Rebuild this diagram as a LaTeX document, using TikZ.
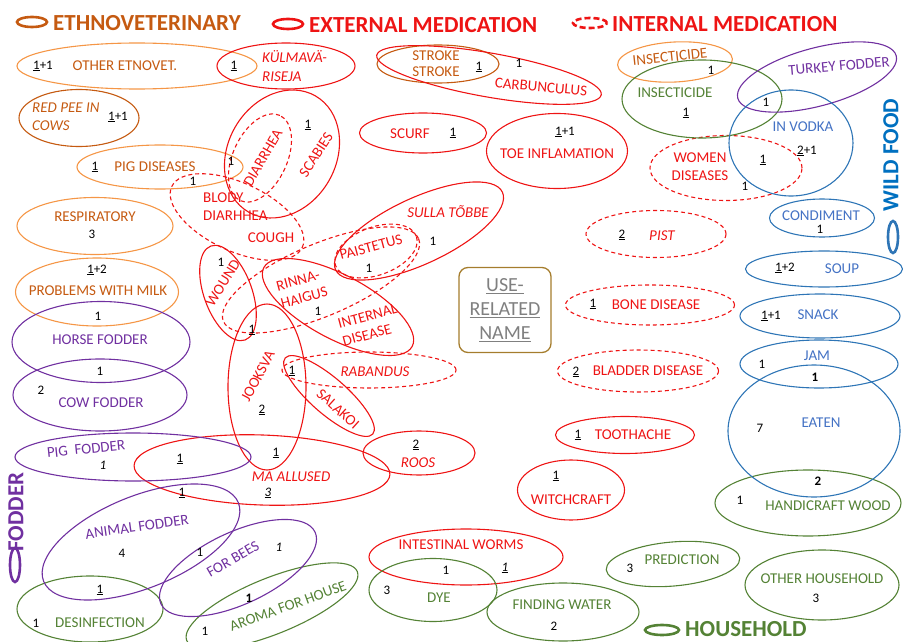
\documentclass[tikz,border=0pt]{standalone}
\usepackage{fontspec}
\setmainfont{Carlito}
\usetikzlibrary{shapes.geometric}
\definecolor{EthnoDark}{RGB}{197,90,17}
\definecolor{EthnoLight}{RGB}{245,150,70}
\definecolor{ExtRed}{RGB}{238,20,20}
\definecolor{FodPurple}{RGB}{112,48,160}
\definecolor{WildBlue}{RGB}{46,117,182}
\definecolor{WildText}{RGB}{68,114,196}
\definecolor{WildTitle}{RGB}{0,112,192}
\definecolor{HouseGreen}{RGB}{84,130,53}
\definecolor{BoxBrown}{RGB}{165,125,45}
\newcommand{\un}[1]{\underline{#1}}
\begin{document}
\begin{tikzpicture}[x=1pt,y=-1pt,
      ov/.style={ellipse,draw,line width=1.1pt,inner sep=0pt},
      sz/.style 2 args={minimum width=#1pt,minimum height=#2pt},
      ethE/.style={ov,draw=EthnoLight},
      ethD/.style={ov,draw=EthnoDark},
      extE/.style={ov,draw=ExtRed},
      intE/.style={ov,draw=ExtRed,dash pattern=on 4pt off 3pt},
      fodE/.style={ov,draw=FodPurple},
      wildE/.style={ov,draw=WildBlue},
      houseE/.style={ov,draw=HouseGreen},
      key/.style={ov,line width=2.6pt},
      ttl/.style={font=\fontsize{23}{24}\selectfont\bfseries,inner sep=0pt},
      lab/.style={font=\fontsize{15}{18}\selectfont,inner sep=0pt},
      num/.style={font=\fontsize{13}{14}\selectfont,inner sep=0pt},
      eth/.style={lab,text=EthnoDark},
      ext/.style={lab,text=ExtRed},
      fod/.style={lab,text=FodPurple},
      wild/.style={lab,text=WildText},
      house/.style={lab,text=HouseGreen}]
    \useasboundingbox (0,0) rectangle (903,642);
    % legend
    \node[key,draw=EthnoDark,sz={30}{10}] (kEth) at (32,22) {};
    \node[ttl,text=EthnoDark,anchor=west] (tEth) at (53,23) {ETHNOVETERINARY};
    \node[key,draw=ExtRed,sz={30}{10}] (kExt) at (288,24) {};
    \node[ttl,text=ExtRed,anchor=west] (tExt) at (309,25) {EXTERNAL MEDICATION};
    \node[key,draw=ExtRed,dash pattern=on 6pt off 3pt,sz={34}{10}] (kInt) at (590,23) {};
    \node[ttl,text=ExtRed,anchor=west] (tInt) at (612,24) {INTERNAL MEDICATION};
    \node[ttl,text=WildTitle,rotate=90] (tWild) at (891,155) {WILD FOOD};
    \node[key,draw=WildBlue,sz={10}{32}] (kWild) at (893,237) {};
    \node[ttl,text=FodPurple,rotate=90] (tFod) at (16,512) {FODDER};
    \node[key,draw=FodPurple,sz={10}{34}] (kFod) at (15,565) {};
    \node[key,draw=HouseGreen,sz={34}{10}] (kHouse) at (662,630) {};
    \node[ttl,text=HouseGreen,anchor=west] (tHouse) at (685,629) {HOUSEHOLD};
    % ethnoveterinary
    \node[ethE,sz={240}{46}] (eOther) at (137,66) {};
    \node[ethD,sz={120}{57}] (eRedPee) at (79,118) {};
    \node[ethE,sz={166}{44}] (ePigDis) at (160,167) {};
    \node[ethE,sz={156}{57}] (eResp) at (95,226) {};
    \node[ethE,sz={163}{68}] (eMilk) at (97,292) {};
    \node[ethD,sz={122}{38}] (eStroke) at (438,64) {};
    \node[ethE,sz={115}{40},rotate=3] (eInsO) at (675,62) {};
    \node[eth] (lOther) at (125,66) {OTHER ETNOVET.};
    \node[eth,font=\fontsize{15}{18}\selectfont\itshape,align=left,anchor=west] (lRedPee) at (32,117) {RED PEE IN\\COWS};
    \node[eth] (lPigDis) at (155,167) {PIG DISEASES};
    \node[eth] (lResp) at (95,217) {RESPIRATORY};
    \node[eth] (lMilk) at (98,291) {PROBLEMS WITH MILK};
    \node[eth,align=center,font=\fontsize{15}{16}\selectfont] (lStroke) at (436,64) {STROKE\\STROKE};
    \node[eth,rotate=6] (lInsO) at (670,57) {INSECTICIDE};
    % external medication
    \node[extE,sz={138}{46}] (eKulm) at (286,66) {};
    \node[extE,sz={228}{44},rotate=-10] (eCarb) at (489,75) {};
    \node[extE,sz={127}{40}] (eScurf) at (423,133) {};
    \node[extE,sz={141}{75}] (eToe) at (557,151) {};
    \node[extE,sz={134}{108},rotate=60] (eScab) at (282,154) {};
    \node[extE,sz={184}{66},rotate=25] (eSulla) at (419,231) {};
    \node[extE,sz={100}{48},rotate=-70] (eWound) at (228,293) {};
    \node[extE,sz={168}{64},rotate=-28] (eRinna) at (338,307) {};
    \node[extE,sz={78}{166}] (eJook) at (267,387) {};
    \node[extE,sz={116}{36},rotate=-41] (eSalak) at (329,396) {};
    \node[extE,sz={256}{70},rotate=-2] (eMaAll) at (262,470) {};
    \node[extE,sz={112}{44}] (eRoos) at (419,453) {};
    \node[extE,sz={139}{37}] (eTooth) at (625,435) {};
    \node[extE,sz={107}{60}] (eWitch) at (571,490) {};
    \node[extE,sz={194}{56}] (eWorms) at (466,557) {};
    \node[ext,font=\fontsize{15}{19}\selectfont\itshape,align=left,anchor=west] (lKulm) at (262,66) {KÜLMAVÄ-\\RISEJA};
    \node[ext,rotate=-5] (lCarb) at (541,87) {CARBUNCULUS};
    \node[ext] (lScurf) at (410,134) {SCURF};
    \node[ext] (lToe) at (557,154) {TOE INFLAMATION};
    \node[ext,rotate=57] (lScab) at (316,155) {SCABIES};
    \node[ext,font=\fontsize{15}{18}\selectfont\itshape] (lSulla) at (448,212) {SULLA TÕBBE};
    \node[ext,rotate=58] (lWound) at (223,283) {WOUND};
    \node[ext,rotate=15,align=left] (lRinna) at (302,289) {RINNA-\\HAIGUS};
    \node[ext,rotate=15,align=left] (lIntDis) at (370,325) {INTERNAL\\DISEASE};
    \node[ext,rotate=62] (lJook) at (258,376) {JOOKSVA};
    \node[ext,rotate=-42] (lSalak) at (338,409) {SALAKOI};
    \node[ext,font=\fontsize{15}{18}\selectfont\itshape] (lMaAll) at (291,477) {MA ALLUSED};
    \node[ext,font=\fontsize{15}{18}\selectfont\itshape] (lRoos) at (418,463) {ROOS};
    \node[ext] (lTooth) at (633,435) {TOOTHACHE};
    \node[ext] (lWitch) at (571,500) {WITCHCRAFT};
    \node[ext] (lWorms) at (461,545) {INTESTINAL WORMS};
    % internal medication
    \node[intE,sz={94}{54},rotate=65] (eDiarr) at (260,158) {};
    \node[intE,sz={144}{68},rotate=-25] (eBlody) at (237,217) {};
    \node[intE,sz={86}{48},rotate=20] (ePaist) at (376,251) {};
    \node[intE,sz={212}{72},rotate=23] (eLong) at (321,280) {};
    \node[intE,sz={174}{36}] (eRaband) at (369,370) {};
    \node[intE,sz={152}{65}] (eWomen) at (726,168) {};
    \node[intE,sz={140}{47}] (ePist) at (656,234) {};
    \node[intE,sz={169}{40}] (eBone) at (650,305) {};
    \node[intE,sz={161}{42}] (eBladd) at (638,371) {};
    \node[ext,rotate=60] (lDiarr) at (263,158) {DIARRHEA};
    \node[ext,align=left,anchor=west] (lBlody) at (203,207) {BLODY\\DIARHHEA};
    \node[ext] (lCough) at (271,238) {COUGH};
    \node[ext,rotate=15] (lPaist) at (371,247) {PAISTETUS};
    \node[ext,font=\fontsize{15}{18}\selectfont\itshape] (lRaband) at (375,372) {RABANDUS};
    \node[ext,align=center] (lWomen) at (700,167) {WOMEN\\DISEASES};
    \node[ext,font=\fontsize{15}{18}\selectfont\itshape] (lPist) at (662,236) {PIST};
    \node[ext] (lBone) at (656,305) {BONE DISEASE};
    \node[ext] (lBladd) at (648,371) {BLADDER DISEASE};
    % household
    \node[houseE,sz={160}{78}] (eInsG) at (702,99) {};
    \node[houseE,sz={186}{66}] (eHandi) at (808,503) {};
    \node[houseE,sz={134}{44},rotate=5] (ePredict) at (673,564) {};
    \node[houseE,sz={154}{70}] (eOtherH) at (822,585) {};
    \node[houseE,sz={128}{63}] (eDye) at (433,590) {};
    \node[houseE,sz={152}{58}] (eWater) at (563,612) {};
    \node[houseE,sz={146}{66}] (eDesinf) at (90,609) {};
    \node[houseE,sz={184}{56},rotate=22] (eAroma) at (272,606) {};
    \node[house] (lInsG) at (675,93) {INSECTICIDE};
    \node[house] (lHandi) at (828,506) {HANDICRAFT WOOD};
    \node[house] (lPredict) at (682,560) {PREDICTION};
    \node[house] (lOtherH) at (822,579) {OTHER HOUSEHOLD};
    \node[house] (lDye) at (439,598) {DYE};
    \node[house] (lWater) at (562,605) {FINDING WATER};
    \node[house] (lDesinf) at (100,623) {DESINFECTION};
    \node[house,rotate=20] (lAroma) at (288,606) {AROMA FOR HOUSE};
    % fodder
    \node[fodE,sz={164}{58},rotate=15] (eTurkey) at (817,77) {};
    \node[fodE,sz={178}{81}] (eHorse) at (101,342) {};
    \node[fodE,sz={174}{72}] (eCow) at (100,395) {};
    \node[fodE,sz={236}{48}] (ePigFod) at (133,457) {};
    \node[fodE,sz={210}{92},rotate=22] (eAnimal) at (141,542) {};
    \node[fodE,sz={170}{72},rotate=25] (eBees) at (238,568) {};
    \node[fod,rotate=5] (lTurkey) at (839,66) {TURKEY FODDER};
    \node[fod] (lHorse) at (100,340) {HORSE FODDER};
    \node[fod] (lCow) at (101,403) {COW FODDER};
    \node[fod,rotate=6] (lPigFod) at (86,449) {PIG~~FODDER};
    \node[fod,rotate=8] (lAnimal) at (137,527) {ANIMAL FODDER};
    \node[fod,rotate=30] (lBees) at (233,559) {FOR BEES};
    % wild food
    \node[wildE,sz={124}{106}] (eVodka) at (791,143) {};
    \node[wildE,sz={105}{38}] (eCond) at (822,218) {};
    \node[wildE,sz={157}{36}] (eSoup) at (824,269) {};
    \node[wildE,sz={160}{44}] (eSnack) at (820,316) {};
    \node[wildE,sz={158}{48}] (eJam) at (819,364) {};
    \node[wildE,sz={172}{132}] (eEaten) at (814,431) {};
    \node[wild] (lVodka) at (803,127) {IN VODKA};
    \node[wild] (lCond) at (821,216) {CONDIMENT};
    \node[wild] (lSoup) at (842,269) {SOUP};
    \node[wild] (lSnack) at (818,315) {SNACK};
    \node[wild] (lJam) at (817,356) {JAM};
    \node[wild] (lEaten) at (821,423) {EATEN};
    % centre box
    \node[draw=BoxBrown,line width=1.3pt,rounded corners=9pt,minimum width=92pt,minimum height=85pt,
          align=center,text=gray,font=\fontsize{20}{24}\selectfont] (useBox) at (505,310)
          {\un{USE-}\\\un{RELATED}\\\un{NAME}};
    % counts
    \foreach \x/\y/\t [count=\i] in {43/66/{\un{1}+1},118/117/{\un{1}+1},95/167/\un{1},231/161/1,92/234/3,
        97/270/{\un{1}+2},479/67/\un{1},711/70/1,234/66/\un{1},519/63/1,453/133/\un{1},565/132/{\un{1}+1},
        308/125/\un{1},193/181/1,433/241/1,369/268/1,221/262/1,252/330/\un{1},318/311/1,292/371/\un{1},
        262/410/\un{2},276/453/\un{1},180/459/\un{1},268/493/\textit{\un{3}},182/493/\un{1},416/445/\un{2},
        578/435/\un{1},556/476/\un{1},446/570/1,505/568/\textit{\un{1}},763/160/\un{1},745/186/1,
        622/235/\un{2},593/304/\un{1},576/372/\un{2},686/113/\un{1},766/102/1,807/151/{\un{2}+1},
        820/229/1,785/268/{\un{1}+2},771/316/{\un{1}+1},762/364/1,815/377/\textbf{1},760/428/7,818/481/\textbf{2},
        740/500/1,630/568/3,816/598/3,387/590/3,554/626/2,36/623/1,100/590/\un{1},205/631/1,
        249/598/\textbf{1},98/316/1,100/371/1,41/390/2,103/465/\textit{1},122/553/4,200/552/1,279/547/\textit{1}}
      \node[num] (n\i) at (\x,\y) {\t};
  \end{tikzpicture}
\end{document}
